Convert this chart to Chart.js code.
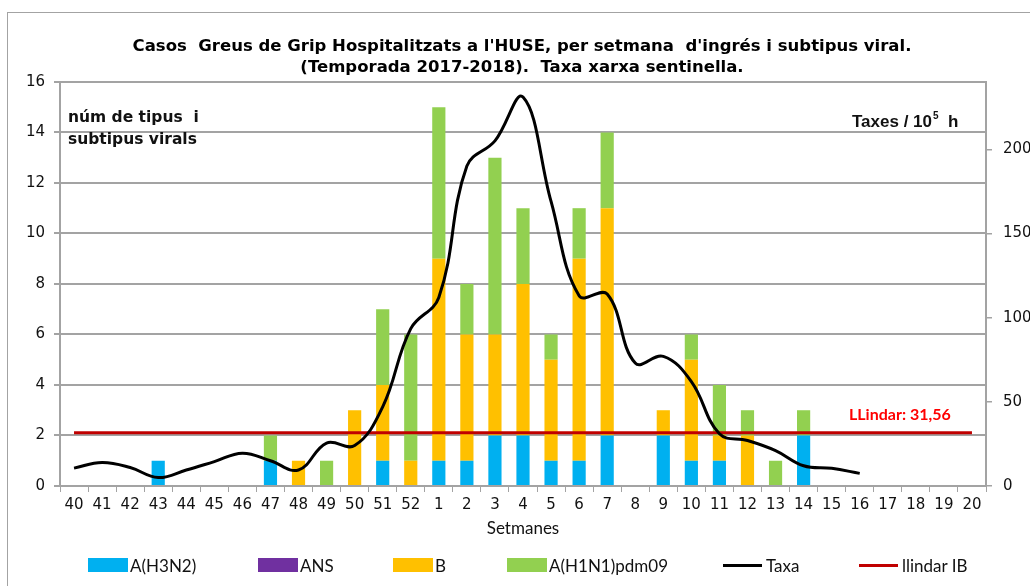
<!DOCTYPE html>
<html>
<head>
<meta charset="utf-8">
<script src="https://cdn.jsdelivr.net/npm/chart.js@4.4.1/dist/chart.umd.min.js"></script>
<style>
  html, body { margin: 0; padding: 0; background: #fff; }
  #wrap { position: relative; width: 1030px; height: 586px; overflow: hidden; }
  #legend { position: absolute; left: 0; top: 555px; width: 1030px; height: 20px;
            font-family: Lato, sans-serif; font-size: 17px; color: #111; }
  .item { position: absolute; top: 0; height: 20px; display: flex; align-items: center; white-space: nowrap; }
  .box { width: 40px; height: 14px; margin-right: 2px; }
  .line { width: 39px; height: 3px; margin-right: 4px; }
</style>
</head>
<body>
<div id="wrap">
  <canvas id="chart" width="1030" height="586"></canvas>
  <div id="legend"></div>
</div>
<script>
// week numbers of the season (x categories)
const weeks = ['40','41','42','43','44','45','46','47','48','49','50','51','52',
  '1','2','3','4','5','6','7','8','9','10','11','12','13','14','15','16','17','18','19','20'];

// cases per week and virus type (left axis)
const h3n2 = [0,0,0,1,0,0,0,1,0,0,0,1,0, 1,1,2,2,1,1,2,0,2,1,1,0,0,2,0,0,0,0,0,0];
const ans  = [0,0,0,0,0,0,0,0,0,0,0,0,0, 0,0,0,0,0,0,0,0,0,0,0,0,0,0,0,0,0,0,0,0];
const fluB = [0,0,0,0,0,0,0,0,1,0,3,3,1, 8,5,4,6,4,8,9,0,1,4,1,2,0,0,0,0,0,0,0,0];
const h1n1 = [0,0,0,0,0,0,0,1,0,1,0,3,5, 6,2,7,3,1,2,3,0,0,1,2,1,1,1,0,0,0,0,0,0];

// sentinel network rate per 10^5 inhabitants (right axis)
const taxa = [10.6,14,11,5,9.5,14.5,19.5,15,9.5,25.5,24,47,93.5,
  112,190,205,231,169,113,114,73,77,62,31,27,21,12,10.5,7.5,null,null,null,null];

const threshold = 31.56;

const leftTicks = { min: 0, max: 16, step: 2 };
const rightTicks = { min: 0, max: 240, step: 50 };

const titleLines = [
  "Casos  Greus de Grip Hospitalitzats a l'HUSE, per setmana  d'ingrés i subtipus viral.",
  '(Temporada 2017-2018).  Taxa xarxa sentinella.'
];

const gridGray = '#a3a3a3';
const tickFont = { family: 'DejaVu Sans', size: 15 };

// frame round the whole chart + free text notes
const extras = {
  id: 'extras',
  beforeDraw(chart) {
    const c = chart.ctx;
    c.save();
    c.strokeStyle = gridGray;
    c.lineWidth = 1;
    c.strokeRect(7.5, 12.5, 1040, 620);
    c.restore();
  },
  afterDraw(chart) {
    const c = chart.ctx;
    c.save();
    c.textBaseline = 'middle';
    c.textAlign = 'left';
    c.fillStyle = '#111';
    c.font = 'bold 15.5px "DejaVu Sans"';
    c.fillText('núm de tipus  i', 68, 118);
    c.fillText('subtipus virals', 68, 140);

    // Taxes / 10^5 h
    let x = 852;
    c.font = 'bold 17px "Liberation Sans"';
    c.fillText('Taxes / 10', x, 122);
    x += c.measureText('Taxes / 10').width;
    c.font = 'bold 10px "Liberation Sans"';
    c.fillText('5', x + 1, 116);
    x += c.measureText('5').width + 1;
    c.font = 'bold 17px "Liberation Sans"';
    c.fillText('  h', x, 122);

    // threshold label
    const yy = chart.scales.y2.getPixelForValue(threshold);
    c.fillStyle = '#ff0000';
    c.font = 'bold 16px Lato';
    c.fillText('LLindar: ' + String(threshold).replace('.', ','), 849, yy - 18);
    c.restore();
  }
};

const ctx = document.getElementById('chart').getContext('2d');
const chart = new Chart(ctx, {
  type: 'bar',
  data: {
    labels: weeks,
    datasets: [
      { label: 'A(H3N2)', data: h3n2, backgroundColor: '#00b0f0', order: 3 },
      { label: 'ANS', data: ans, backgroundColor: '#7030a0', order: 3 },
      { label: 'B', data: fluB, backgroundColor: '#ffc000', order: 3 },
      { label: 'A(H1N1)pdm09', data: h1n1, backgroundColor: '#92d050', order: 3 },
      { type: 'line', label: 'Taxa', data: taxa, yAxisID: 'y2', borderColor: '#000',
        backgroundColor: '#000', borderWidth: 3, pointRadius: 0, tension: 0.4, order: 1 },
      { type: 'line', label: 'llindar IB', yAxisID: 'y2',
        data: [{ x: weeks[0], y: threshold }, { x: weeks[weeks.length - 1], y: threshold }],
        borderColor: '#c00000', backgroundColor: '#c00000', borderWidth: 3, pointRadius: 0, order: 2 }
    ]
  },
  options: {
    responsive: false,
    animation: false,
    devicePixelRatio: 1,
    layout: { padding: { left: 14, right: 0, top: 0, bottom: 40 } },
    datasets: { bar: { categoryPercentage: 1, barPercentage: 0.47, borderWidth: 0 } },
    plugins: {
      legend: { display: false },
      tooltip: { enabled: false },
      title: {
        display: true,
        text: titleLines,
        color: '#000',
        font: { family: 'DejaVu Sans', size: 16.5, weight: 'bold', lineHeight: 1.27 },
        padding: { top: 36, bottom: 4 }
      }
    },
    scales: {
      x: {
        stacked: true,
        grid: { drawOnChartArea: false, drawTicks: true, tickLength: 6, color: gridGray, offset: true },
        border: { color: gridGray, width: 2 },
        ticks: { color: '#111', font: tickFont, padding: 4, autoSkip: false, maxRotation: 0 },
        title: { display: true, text: 'Setmanes', color: '#111',
                 font: { family: 'Lato', size: 17 }, padding: { top: 0, bottom: 7 } },
        afterFit(s) { s.height = 60; }
      },
      y: {
        stacked: true,
        position: 'left',
        min: leftTicks.min, max: leftTicks.max,
        ticks: { stepSize: leftTicks.step, color: '#111', font: tickFont, padding: 9 },
        grid: { color: gridGray, lineWidth: 2, tickLength: 6 },
        border: { color: gridGray, width: 2 },
        afterFit(s) { s.width = 46; }
      },
      y2: {
        position: 'right',
        min: rightTicks.min, max: rightTicks.max,
        ticks: { stepSize: rightTicks.step, color: '#111', font: tickFont, padding: 11 },
        afterBuildTicks(s) { s.ticks = s.ticks.filter(t => t.value % rightTicks.step === 0); },
        grid: { drawOnChartArea: false, tickLength: 6, color: gridGray, lineWidth: 1.5 },
        border: { color: gridGray, width: 2 },
        afterFit(s) { s.width = 44; }
      }
    }
  },
  plugins: [extras]
});

// HTML legend, same order as the reference
const legendLeft = [88, 258, 393, 507, 723, 859];
const legendEl = document.getElementById('legend');
chart.data.datasets.forEach((ds, i) => {
  const item = document.createElement('div');
  item.className = 'item';
  item.style.left = legendLeft[i] + 'px';
  const sw = document.createElement('span');
  sw.className = ds.type === 'line' ? 'line' : 'box';
  sw.style.background = ds.type === 'line' ? ds.borderColor : ds.backgroundColor;
  const txt = document.createElement('span');
  txt.textContent = ds.label;
  item.appendChild(sw);
  item.appendChild(txt);
  legendEl.appendChild(item);
});
</script>
</body>
</html>
